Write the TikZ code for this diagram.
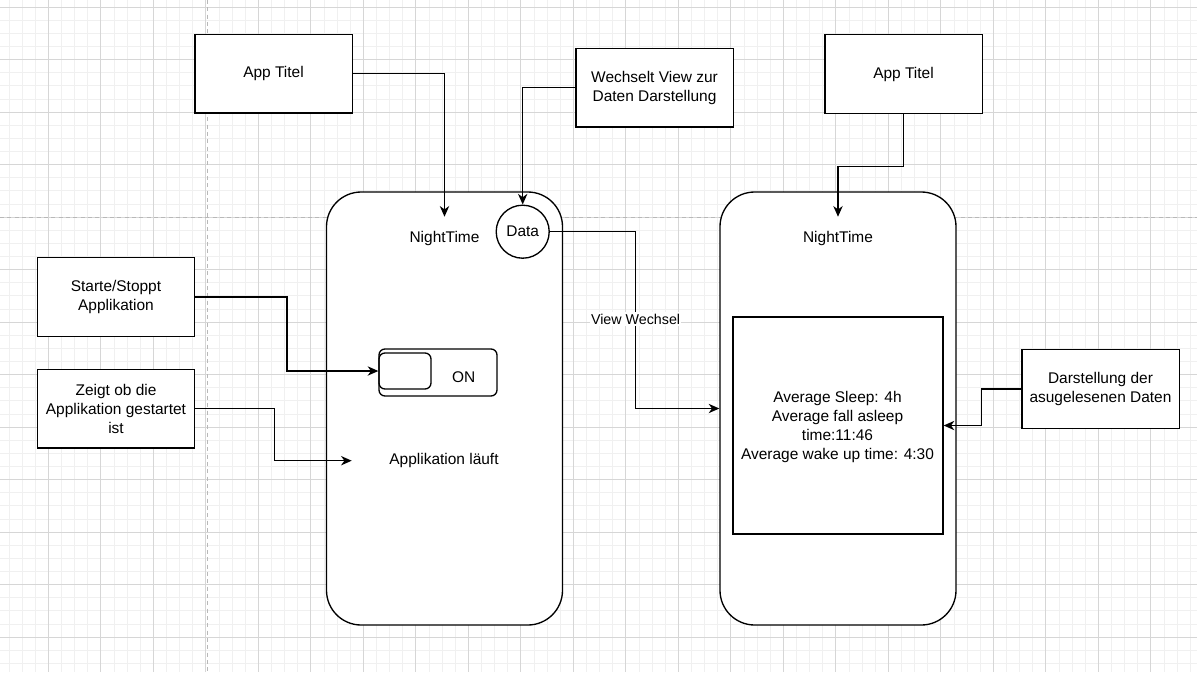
\documentclass[tikz,border=0pt]{standalone}
\usepackage{fontspec}
\setmainfont{Liberation Sans}
\usetikzlibrary{arrows.meta}

\begin{document}
\begin{tikzpicture}[x=0.75pt,y=-0.75pt,
  font=\fontsize{11.6pt}{14.25pt}\selectfont,
  box/.style={draw,line width=1pt,fill=white,align=center,minimum width=118pt,minimum height=59pt,inner sep=2pt},
  phone/.style={draw,line width=1pt,fill=white,rounded corners=26pt,minimum width=177pt,minimum height=324.75pt},
  lbl/.style={inner sep=1pt,align=center},
  arr/.style={line width=1pt,-{Stealth[length=8pt,width=7pt,inset=2.5pt]}},
  minorline/.style={line width=0.5pt,black!6},
  majorline/.style={line width=0.6pt,black!16},
  pageline/.style={line width=0.7pt,black!28,dash pattern=on 3pt off 2.5pt}]

  \useasboundingbox (0,0) rectangle (1197,672);
  \fill[white] (0,0) rectangle (1197,672);

  % canvas grid
  \begin{scope}
    \clip (0,0) rectangle (1197,672);
    \foreach \i in {0,...,91} \draw[minorline] ({-4.2+13.125*\i},0) -- ++(0,672);
    \foreach \j in {0,...,50} \draw[minorline] (0,{7+13.125*\j}) -- ++(1197,0);
    \foreach \i in {0,...,23} \draw[majorline] ({-4.2+52.5*\i},0) -- ++(0,672);
    \foreach \j in {0,...,12} \draw[majorline] (0,{7+52.5*\j}) -- ++(1197,0);
  \end{scope}
  \draw[pageline] (207,0) -- (207,672);
  \draw[pageline] (0,217) -- (1197,217);

  % notes
  \node[box] (app1) at (273.5,73.5) {App Titel};
  \node[box] (wechsel) at (654.5,87.5) {Wechselt View zur\\Daten Darstellung};
  \node[box] (app2) at (903.5,74) {App Titel};
  \node[box] (starte) at (116,297) {Starte/Stoppt\\Applikation};
  \node[box] (zeigt) at (116,408.5) {Zeigt ob die\\Applikation gestartet\\ist};
  \node[box] (darst) at (1100.5,389) {Darstellung der\\asugelesenen Daten};

  % screens
  \node[phone] (phone1) at (444.5,408.5) {};
  \node[phone] (phone2) at (838,408.5) {};
  \node[lbl,minimum height=31.5pt] (nt1) at (444.5,238) {NightTime};
  \node[lbl,minimum height=31.5pt] (nt2) at (838,238) {NightTime};
  \node[draw,circle,line width=1pt,fill=white,minimum size=39.75pt,inner sep=0pt] (data) at (522.7,231.7) {Data};

  \node[draw,line width=1pt,rounded corners=4.5pt,minimum width=88.5pt,minimum height=35.25pt] (toggle) at (438,372.5) {};
  \node[draw,line width=1pt,rounded corners=4.5pt,minimum width=39pt,minimum height=27pt] (knob) at (405,371) {};
  \node[lbl] (on) at (463.7,376.7) {ON};
  \node[lbl,minimum width=138pt] (lauft) at (444,460.7) {Applikation läuft};

  \node[draw,line width=1pt,fill=white,minimum width=157.5pt,minimum height=162.75pt] (databox) at (838,425.5) {};
  \node[lbl] (stats) at (837.5,426.5) {Average Sleep: 4h\\Average fall asleep\\time:11:46\\Average wake up time: 4:30};

  % connectors
  \draw[arr] (app1.east) -| (nt1.north);
  \draw[arr] (wechsel.west) -| (data.north);
  \draw[arr] (app2.south) -- ++(0,52.5) -| (nt2.north);
  \draw[arr] (starte.east) -- ++(91.7,0) |- (knob.west);
  \draw[arr] (zeigt.east) -- ++(79,0) |- (lauft.west);
  \draw[arr] (data.east) -- ++(85.7,0) coordinate (vw) |- (phone2.west);
  \draw[arr] (darst.west) -- ++(-39.7,0) |- (databox.east);
  \path (vw) ++(0,87.3) node[lbl,fill=white,font=\fontsize{10.7pt}{13pt}\selectfont] (vwlbl) {View Wechsel};

\end{tikzpicture}
\end{document}
